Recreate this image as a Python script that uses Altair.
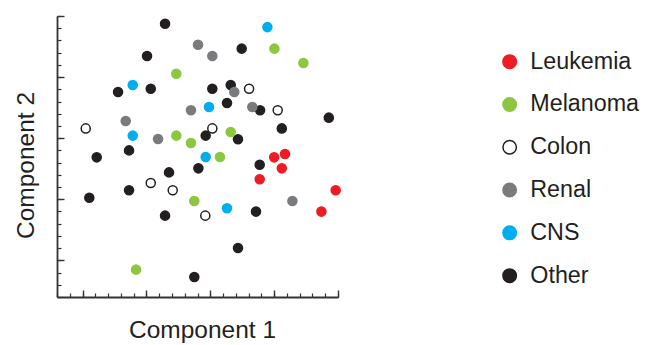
import altair as alt
import pandas as pd

categories = ["Leukemia", "Melanoma", "Colon", "Renal", "CNS", "Other"]
fill_colors = ["#ED1C24", "#8DC63F", "#FFFFFF", "#7A7B7E", "#00AEEF", "#231F20"]
stroke_colors = ["#ED1C24", "#8DC63F", "#231F20", "#7A7B7E", "#00AEEF", "#231F20"]

leukemia_x = [17.0, 17.85, 17.6, 15.87, 21.82, 20.7]
leukemia_y = [11.43, 11.7, 10.53, 9.63, 8.73, 6.99]
melanoma_x = [9.34, 17.02, 19.29, 9.34, 10.49, 13.6, 12.76, 10.75, 6.19]
melanoma_y = [18.28, 20.33, 19.15, 13.21, 12.6, 13.5, 11.46, 7.86, 2.24]
colon_x = [2.25, 12.16, 15.04, 17.28, 7.34, 9.06, 11.61]
colon_y = [13.8, 13.8, 17.05, 15.28, 9.33, 8.73, 6.66]
renal_x = [11.04, 12.16, 10.49, 5.38, 7.91, 13.88, 15.29, 18.43]
renal_y = [20.65, 19.72, 15.28, 14.4, 12.93, 16.78, 15.55, 7.86]
cns_x = [16.47, 5.93, 11.9, 5.93, 11.64, 13.31]
cns_y = [22.09, 17.35, 15.55, 13.21, 11.46, 7.26]
other_x = [8.46, 7.05, 14.46, 4.78, 7.34, 12.16, 13.6, 13.31, 15.9, 21.28, 11.64, 14.17,
           17.6, 5.64, 3.11, 8.77, 11.07, 15.87, 5.64, 2.53, 8.46, 15.58, 14.17, 10.75]
other_y = [22.37, 19.72, 20.33, 16.78, 17.05, 17.05, 17.35, 15.88, 15.28, 14.68, 13.21, 12.91,
           13.8, 12.0, 11.43, 10.2, 10.53, 10.83, 8.73, 8.13, 6.66, 6.99, 4.01, 1.64]

x_minor_ticks = list(range(0, 23))
x_major_ticks = [2, 7, 12, 17, 22]
y_minor_ticks = list(range(0, 24))
y_major_ticks = [3, 8, 13, 18, 23]

series = [
    ("Other", other_x, other_y),
    ("Leukemia", leukemia_x, leukemia_y),
    ("Melanoma", melanoma_x, melanoma_y),
    ("Colon", colon_x, colon_y),
    ("Renal", renal_x, renal_y),
    ("CNS", cns_x, cns_y),
]
rows = []
for name, xs_, ys_ in series:
    for a, b in zip(xs_, ys_):
        rows.append({"x": a, "y": b, "type": name})
df = pd.DataFrame(rows)

W, H = 281, 281
FONT = "Liberation Sans"
TXT = "#231F20"

xs = alt.Scale(domain=[0, 22], nice=False, zero=False)
ys = alt.Scale(domain=[0, 23], nice=False, zero=False)

legend = alt.Legend(
    title=None, orient="none", legendX=441, legendY=34,
    symbolSize=181, symbolStrokeWidth=1.5, symbolType="circle",
    labelFontSize=23.3, labelFont=FONT, labelColor=TXT,
    labelOffset=9, rowPadding=18.8,
)

points = alt.Chart(df).mark_circle(size=82, strokeWidth=1.5, opacity=1).encode(
    x=alt.X("x:Q", scale=xs, axis=alt.Axis(
        orient="bottom", title="Component 1", domain=False, ticks=False, labels=False,
        grid=False, titleFontSize=24.5, titleFont=FONT, titleFontWeight="normal",
        titleColor=TXT, titlePadding=21, titleX=145)),
    y=alt.Y("y:Q", scale=ys, axis=alt.Axis(
        orient="left", title="Component 2", domain=False, ticks=False, labels=False,
        grid=False, titleFontSize=24.5, titleFont=FONT, titleFontWeight="normal",
        titleColor=TXT, titlePadding=19, titleY=149)),
    fill=alt.Fill("type:N", scale=alt.Scale(domain=categories, range=fill_colors), legend=legend),
    stroke=alt.Stroke("type:N", scale=alt.Scale(domain=categories, range=stroke_colors), legend=legend),
)

minor = alt.Chart(df).mark_circle(opacity=0).encode(
    x=alt.X("x:Q", scale=xs, title=None, axis=alt.Axis(
        orient="top", offset=-H, values=x_minor_ticks, tickSize=4, tickWidth=1.2,
        tickColor="#333333", domain=True, domainWidth=1.8, domainColor="#333333",
        labels=False, grid=False)),
    y=alt.Y("y:Q", scale=ys, title=None, axis=alt.Axis(
        orient="right", offset=-W, values=y_minor_ticks, tickSize=4, tickWidth=1.2,
        tickColor="#333333", domain=True, domainWidth=1.8, domainColor="#333333",
        labels=False, grid=False)),
)

major = alt.Chart(df).mark_circle(opacity=0).encode(
    x=alt.X("x:Q", scale=xs, title=None, axis=alt.Axis(
        orient="top", offset=-H, values=x_major_ticks, tickSize=7, tickWidth=1.4,
        tickColor="#333333", domain=False, labels=False, grid=False)),
    y=alt.Y("y:Q", scale=ys, title=None, axis=alt.Axis(
        orient="right", offset=-W, values=y_major_ticks, tickSize=7, tickWidth=1.4,
        tickColor="#333333", domain=False, labels=False, grid=False)),
)

chart = alt.layer(minor, major, points).resolve_axis(
    x="independent", y="independent"
).properties(
    width=W, height=H,
    autosize=alt.AutoSizeParams(type="none"),
    padding={"left": 57, "top": 16, "right": 647 - 57 - W, "bottom": 345 - 16 - H},
).configure_view(stroke=None)

chart.save("out.html", embed_options={"renderer": "svg", "actions": False})
